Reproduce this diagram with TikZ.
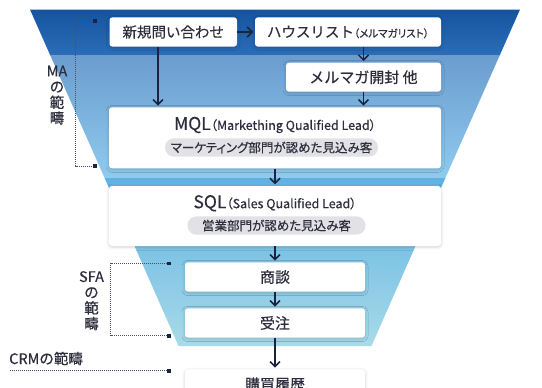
\documentclass[tikz,border=0pt]{standalone}
\usepackage{fontspec}
\setmainfont{Noto Sans CJK JP}[FakeBold=0.35]
\newfontfamily\pfont{Noto Sans CJK JP}[RawFeature=+palt, FakeBold=0.35]
\usetikzlibrary{arrows.meta,shadows.blur}
\definecolor{navy}{HTML}{1C2340}
\definecolor{txt}{HTML}{2D2D3D}
\definecolor{pillc}{HTML}{E2E2E6}
\definecolor{topA}{HTML}{15539F}
\definecolor{topB}{HTML}{2B6DB8}
\definecolor{midA}{HTML}{6B9CCF}
\definecolor{midB}{HTML}{8FCBED}
\definecolor{botA}{HTML}{5EB2E2}
\definecolor{botB}{HTML}{A8DAE9}
\definecolor{dotc}{HTML}{4A4F66}
\tikzset{
  box/.style={draw=none, fill=white, rounded corners=3pt, text=txt, inner sep=0pt,
    blur shadow={shadow xshift=0pt, shadow yshift=-1pt, shadow blur radius=3pt, shadow opacity=18}},
  pill/.style={fill=pillc, rounded corners=9pt, text=txt, inner sep=0pt, minimum height=18.4pt},
  arr/.style={draw=navy, line width=1.7pt, -{Straight Barb[length=5pt,width=10pt,line width=1.5pt]}, shorten >=1.5pt},
  brk/.style={draw=dotc, line width=0.7pt, dash pattern=on 0.8pt off 1.2pt},
  sq/.style={fill=navy, inner sep=0pt, minimum size=3.6pt},
  lbl/.style={text=txt, inner sep=0pt, font=\fontsize{14.5}{15.7}\selectfont, align=center},
}
\begin{document}
\begin{tikzpicture}[x=1pt,y=-1pt]
\useasboundingbox (0,0) rectangle (542,388);
\clip (0,0) rectangle (542,388);
% funnel sections
\shade[top color=topA, bottom color=topB] (30,9.5) -- (520,9.5) -- (499.9,55) -- (50.1,55) -- cycle;
\shade[top color=midA, bottom color=midB] (50.1,55) -- (499.9,55) -- (445.4,178) -- (104.6,178) -- cycle;
\shade[top color=botA, bottom color=botB] (104.6,178) -- (445.4,178) -- (371.5,346) -- (178.5,346) -- cycle;

% boxes
\node[box, minimum width=127.5pt, minimum height=29.4pt] (shinki) at (173.25,32) {\fontsize{14.5}{14.5}\selectfont 新規問い合わせ};
\node[box, minimum width=186pt, minimum height=29.4pt] (house) at (348,32) {\fontsize{14.5}{14.5}\selectfont ハウスリスト{\pfont\fontsize{10.5}{10.5}\selectfont （メルマガリスト）}};
\node[box, minimum width=155pt, minimum height=29pt] (mail) at (363.5,77.2) {\fontsize{15}{15}\selectfont メルマガ開封 他};
\node[box, minimum width=332pt, minimum height=61pt] (mql) at (275,137.8) {};
\node[text=txt, inner sep=0pt] (mqlt) at (275,125) {{\fontsize{17.5}{17.5}\selectfont MQL}{\pfont\fontsize{12.5}{12.5}\selectfont （Markething Qualified Lead）}};
\node[pill, minimum width=213pt] (mqlp) at (271.5,147.5) {\pfont\fontsize{12.5}{12.5}\selectfont マーケティング部門が認めた見込み客};
\node[box, minimum width=332pt, minimum height=60pt] (sql) at (275,216) {};
\node[text=txt, inner sep=0pt] (sqlt) at (275,203.3) {{\fontsize{17.5}{17.5}\selectfont SQL}{\pfont\fontsize{12.5}{12.5}\selectfont （Sales Qualified Lead）}};
\node[pill, minimum width=178pt] (sqlp) at (276.5,225.5) {\pfont\fontsize{12.5}{12.5}\selectfont 営業部門が認めた見込み客};
\node[box, minimum width=180pt, minimum height=29.4pt] (shodan) at (275,277) {\fontsize{15}{15}\selectfont 商談};
\node[box, minimum width=180pt, minimum height=29.4pt] (juchu) at (275,323) {\fontsize{15}{15}\selectfont 受注};
\node[box, minimum width=180pt, minimum height=30pt] (kobai) at (275,384.3) {\fontsize{15}{15}\selectfont 購買履歴};

% arrows
\draw[arr] (shinki.east) -- (house.west);
\draw[arr] ([xshift=-15.25pt]shinki.south) -- ([xshift=-15.25pt]shinki.south |- mql.north);
\draw[arr] (mail.north |- house.south) -- (mail.north);
\draw[arr] (mail.south) -- (mail.south |- mql.north);
\draw[arr] (mql.south) -- (sql.north);
\draw[arr] (sql.south) -- (shodan.north);
\draw[arr] (shodan.south) -- (juchu.north);
\draw[arr] (juchu.south) -- (kobai.north);

% MA bracket
\node[sq] (maT) at (95,21) {};
\node[sq] (maB) at (95,166) {};
\coordinate (maTL) at (75.5,21);
\coordinate (maBL) at (75.5,166);
\draw[brk] (maT) -- (maTL) -- (maBL) -- (maB);
\node[lbl] (malbl) at (57,95.2) {MA\\の\\範\\疇};

% SFA bracket
\node[sq] (sfaT) at (169,263.3) {};
\node[sq] (sfaB) at (169,335.7) {};
\coordinate (sfaTL) at (110.7,263.3);
\coordinate (sfaBL) at (110.7,335.7);
\draw[brk] (sfaT) -- (sfaTL) -- (sfaBL) -- (sfaB);
\node[lbl] (sfalbl) at (91.5,300.7) {SFA\\の\\範\\疇};

% CRM
\node[sq] (crmS) at (169,370.7) {};
\coordinate (crmL) at (10,370.7);
\draw[brk] (crmL) -- (crmS);
\node[lbl, anchor=west] (crmlbl) at (9,358.5) {CRMの範疇};
\end{tikzpicture}
\end{document}
